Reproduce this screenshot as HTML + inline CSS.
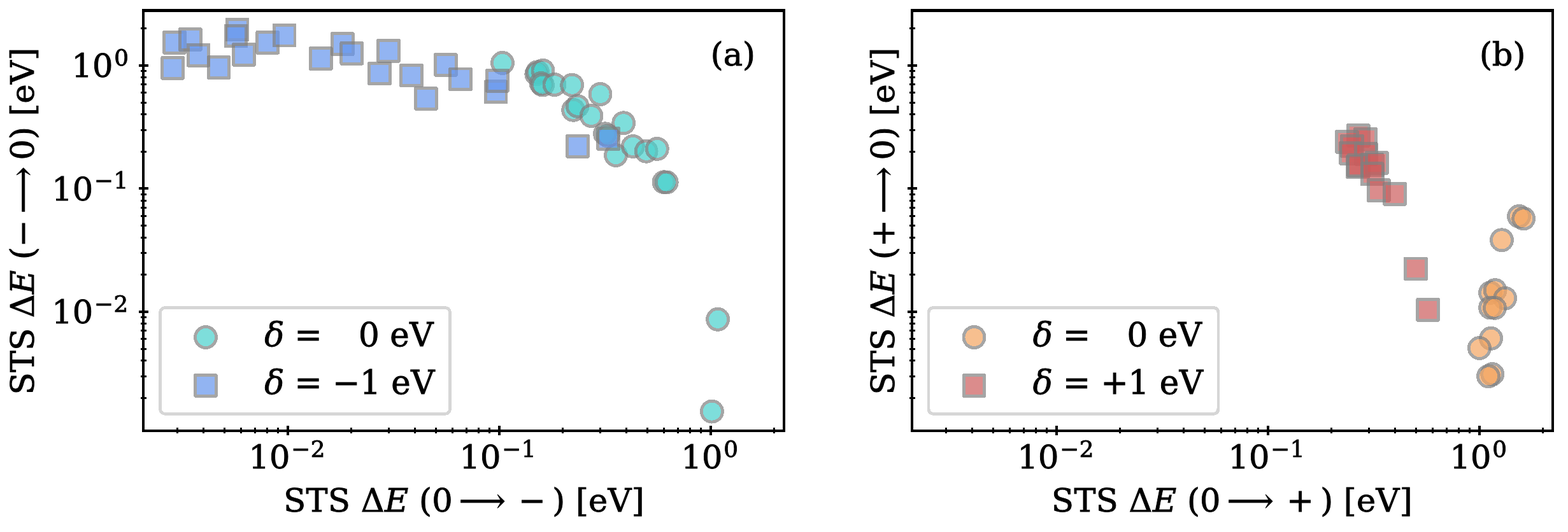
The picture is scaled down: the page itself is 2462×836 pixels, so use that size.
<!DOCTYPE html>
<html><head><meta charset="utf-8"><title>STS scatter</title>
<style>html,body{margin:0;padding:0;background:#fff;width:2462px;height:836px;overflow:hidden}svg{display:block}</style>
</head><body>
<svg width="2462" height="836" viewBox="0 0 2462 836">
<style>circle,rect{shape-rendering:crispEdges}</style>
<rect x="0" y="0" width="2462" height="836" fill="#ffffff"/>
<g>
<circle cx="789.00" cy="98.90" r="16.5" fill="#48D1CC" stroke="#808080" stroke-width="4.9" opacity="0.7"/>
<circle cx="842.30" cy="116.50" r="16.5" fill="#48D1CC" stroke="#808080" stroke-width="4.9" opacity="0.7"/>
<circle cx="844.00" cy="113.30" r="16.5" fill="#48D1CC" stroke="#808080" stroke-width="4.9" opacity="0.7"/>
<circle cx="852.50" cy="111.00" r="16.5" fill="#48D1CC" stroke="#808080" stroke-width="4.9" opacity="0.7"/>
<circle cx="849.50" cy="131.00" r="16.5" fill="#48D1CC" stroke="#808080" stroke-width="4.9" opacity="0.7"/>
<circle cx="852.00" cy="133.60" r="16.5" fill="#48D1CC" stroke="#808080" stroke-width="4.9" opacity="0.7"/>
<circle cx="870.50" cy="133.00" r="16.5" fill="#48D1CC" stroke="#808080" stroke-width="4.9" opacity="0.7"/>
<circle cx="898.20" cy="133.70" r="16.5" fill="#48D1CC" stroke="#808080" stroke-width="4.9" opacity="0.7"/>
<circle cx="942.60" cy="148.00" r="16.5" fill="#48D1CC" stroke="#808080" stroke-width="4.9" opacity="0.7"/>
<circle cx="900.20" cy="172.80" r="16.5" fill="#48D1CC" stroke="#808080" stroke-width="4.9" opacity="0.7"/>
<circle cx="906.60" cy="166.80" r="16.5" fill="#48D1CC" stroke="#808080" stroke-width="4.9" opacity="0.7"/>
<circle cx="928.50" cy="182.00" r="16.5" fill="#48D1CC" stroke="#808080" stroke-width="4.9" opacity="0.7"/>
<circle cx="979.20" cy="193.30" r="16.5" fill="#48D1CC" stroke="#808080" stroke-width="4.9" opacity="0.7"/>
<circle cx="950.00" cy="210.30" r="16.5" fill="#48D1CC" stroke="#808080" stroke-width="4.9" opacity="0.7"/>
<circle cx="954.70" cy="213.50" r="16.5" fill="#48D1CC" stroke="#808080" stroke-width="4.9" opacity="0.7"/>
<circle cx="967.00" cy="244.00" r="16.5" fill="#48D1CC" stroke="#808080" stroke-width="4.9" opacity="0.7"/>
<circle cx="993.80" cy="230.00" r="16.5" fill="#48D1CC" stroke="#808080" stroke-width="4.9" opacity="0.7"/>
<circle cx="1014.60" cy="237.80" r="16.5" fill="#48D1CC" stroke="#808080" stroke-width="4.9" opacity="0.7"/>
<circle cx="1031.80" cy="233.90" r="16.5" fill="#48D1CC" stroke="#808080" stroke-width="4.9" opacity="0.7"/>
<circle cx="1042.50" cy="286.20" r="16.5" fill="#48D1CC" stroke="#808080" stroke-width="4.9" opacity="0.7"/>
<circle cx="1046.70" cy="286.50" r="16.5" fill="#48D1CC" stroke="#808080" stroke-width="4.9" opacity="0.7"/>
<circle cx="1127.10" cy="501.80" r="16.5" fill="#48D1CC" stroke="#808080" stroke-width="4.9" opacity="0.7"/>
<circle cx="1117.90" cy="646.60" r="16.5" fill="#48D1CC" stroke="#808080" stroke-width="4.9" opacity="0.7"/>
<rect x="257.60" y="50.50" width="32.8" height="32.8" fill="#6495ED" stroke="#808080" stroke-width="4.9" stroke-linejoin="round" opacity="0.7"/>
<rect x="282.40" y="45.60" width="32.8" height="32.8" fill="#6495ED" stroke="#808080" stroke-width="4.9" stroke-linejoin="round" opacity="0.7"/>
<rect x="254.70" y="90.40" width="32.8" height="32.8" fill="#6495ED" stroke="#808080" stroke-width="4.9" stroke-linejoin="round" opacity="0.7"/>
<rect x="295.10" y="70.40" width="32.8" height="32.8" fill="#6495ED" stroke="#808080" stroke-width="4.9" stroke-linejoin="round" opacity="0.7"/>
<rect x="327.10" y="89.50" width="32.8" height="32.8" fill="#6495ED" stroke="#808080" stroke-width="4.9" stroke-linejoin="round" opacity="0.7"/>
<rect x="356.20" y="30.10" width="32.8" height="32.8" fill="#6495ED" stroke="#808080" stroke-width="4.9" stroke-linejoin="round" opacity="0.7"/>
<rect x="354.10" y="40.10" width="32.8" height="32.8" fill="#6495ED" stroke="#808080" stroke-width="4.9" stroke-linejoin="round" opacity="0.7"/>
<rect x="366.60" y="69.40" width="32.8" height="32.8" fill="#6495ED" stroke="#808080" stroke-width="4.9" stroke-linejoin="round" opacity="0.7"/>
<rect x="403.90" y="50.50" width="32.8" height="32.8" fill="#6495ED" stroke="#808080" stroke-width="4.9" stroke-linejoin="round" opacity="0.7"/>
<rect x="430.20" y="39.20" width="32.8" height="32.8" fill="#6495ED" stroke="#808080" stroke-width="4.9" stroke-linejoin="round" opacity="0.7"/>
<rect x="487.50" y="75.60" width="32.8" height="32.8" fill="#6495ED" stroke="#808080" stroke-width="4.9" stroke-linejoin="round" opacity="0.7"/>
<rect x="521.50" y="52.80" width="32.8" height="32.8" fill="#6495ED" stroke="#808080" stroke-width="4.9" stroke-linejoin="round" opacity="0.7"/>
<rect x="535.90" y="67.40" width="32.8" height="32.8" fill="#6495ED" stroke="#808080" stroke-width="4.9" stroke-linejoin="round" opacity="0.7"/>
<rect x="593.60" y="63.50" width="32.8" height="32.8" fill="#6495ED" stroke="#808080" stroke-width="4.9" stroke-linejoin="round" opacity="0.7"/>
<rect x="579.50" y="99.10" width="32.8" height="32.8" fill="#6495ED" stroke="#808080" stroke-width="4.9" stroke-linejoin="round" opacity="0.7"/>
<rect x="629.60" y="102.10" width="32.8" height="32.8" fill="#6495ED" stroke="#808080" stroke-width="4.9" stroke-linejoin="round" opacity="0.7"/>
<rect x="652.60" y="138.60" width="32.8" height="32.8" fill="#6495ED" stroke="#808080" stroke-width="4.9" stroke-linejoin="round" opacity="0.7"/>
<rect x="683.60" y="85.60" width="32.8" height="32.8" fill="#6495ED" stroke="#808080" stroke-width="4.9" stroke-linejoin="round" opacity="0.7"/>
<rect x="706.60" y="108.00" width="32.8" height="32.8" fill="#6495ED" stroke="#808080" stroke-width="4.9" stroke-linejoin="round" opacity="0.7"/>
<rect x="762.20" y="127.90" width="32.8" height="32.8" fill="#6495ED" stroke="#808080" stroke-width="4.9" stroke-linejoin="round" opacity="0.7"/>
<rect x="764.60" y="110.50" width="32.8" height="32.8" fill="#6495ED" stroke="#808080" stroke-width="4.9" stroke-linejoin="round" opacity="0.7"/>
<rect x="890.60" y="213.50" width="32.8" height="32.8" fill="#6495ED" stroke="#808080" stroke-width="4.9" stroke-linejoin="round" opacity="0.7"/>
<rect x="938.70" y="201.60" width="32.8" height="32.8" fill="#6495ED" stroke="#808080" stroke-width="4.9" stroke-linejoin="round" opacity="0.7"/>
</g>
<g fill="#000">
<rect x="223.00" y="14" width="4" height="665"/>
<rect x="1229.00" y="14" width="4" height="665"/>
<rect x="223.00" y="14" width="1010.00" height="5"/>
<rect x="223.00" y="675" width="1010.00" height="4"/>
</g>
<g fill="#000"><rect x="276.90" y="672" width="3" height="9"/><rect x="318.38" y="672" width="3" height="9"/><rect x="350.56" y="672" width="3" height="9"/><rect x="376.85" y="672" width="3" height="9"/><rect x="399.07" y="672" width="3" height="9"/><rect x="418.33" y="672" width="3" height="9"/><rect x="435.31" y="672" width="3" height="9"/><rect x="450.00" y="669" width="4" height="15"/><rect x="550.44" y="672" width="3" height="9"/><rect x="608.90" y="672" width="3" height="9"/><rect x="650.38" y="672" width="3" height="9"/><rect x="682.56" y="672" width="3" height="9"/><rect x="708.85" y="672" width="3" height="9"/><rect x="731.07" y="672" width="3" height="9"/><rect x="750.33" y="672" width="3" height="9"/><rect x="767.31" y="672" width="3" height="9"/><rect x="782.00" y="669" width="4" height="15"/><rect x="882.44" y="672" width="3" height="9"/><rect x="940.90" y="672" width="3" height="9"/><rect x="982.38" y="672" width="3" height="9"/><rect x="1014.56" y="672" width="3" height="9"/><rect x="1040.85" y="672" width="3" height="9"/><rect x="1063.07" y="672" width="3" height="9"/><rect x="1082.33" y="672" width="3" height="9"/><rect x="1099.31" y="672" width="3" height="9"/><rect x="1114.00" y="669" width="4" height="15"/><rect x="1214.44" y="672" width="3" height="9"/><rect x="220.80" y="623.72" width="9" height="3"/><rect x="220.80" y="589.65" width="9" height="3"/><rect x="220.80" y="565.47" width="9" height="3"/><rect x="220.80" y="546.72" width="9" height="3"/><rect x="220.80" y="531.40" width="9" height="3"/><rect x="220.80" y="518.44" width="9" height="3"/><rect x="220.80" y="507.22" width="9" height="3"/><rect x="220.80" y="497.32" width="9" height="3"/><rect x="217.80" y="487.97" width="15" height="4"/><rect x="220.80" y="430.22" width="9" height="3"/><rect x="220.80" y="396.15" width="9" height="3"/><rect x="220.80" y="371.97" width="9" height="3"/><rect x="220.80" y="353.22" width="9" height="3"/><rect x="220.80" y="337.90" width="9" height="3"/><rect x="220.80" y="324.94" width="9" height="3"/><rect x="220.80" y="313.72" width="9" height="3"/><rect x="220.80" y="303.82" width="9" height="3"/><rect x="217.80" y="294.47" width="15" height="4"/><rect x="220.80" y="236.72" width="9" height="3"/><rect x="220.80" y="202.65" width="9" height="3"/><rect x="220.80" y="178.47" width="9" height="3"/><rect x="220.80" y="159.72" width="9" height="3"/><rect x="220.80" y="144.40" width="9" height="3"/><rect x="220.80" y="131.44" width="9" height="3"/><rect x="220.80" y="120.22" width="9" height="3"/><rect x="220.80" y="110.32" width="9" height="3"/><rect x="217.80" y="100.97" width="15" height="4"/><rect x="220.80" y="43.22" width="9" height="3"/></g>
<g>
<circle cx="2385.10" cy="339.90" r="16.5" fill="#F4A460" stroke="#808080" stroke-width="4.9" opacity="0.7"/>
<circle cx="2392.20" cy="343.40" r="16.5" fill="#F4A460" stroke="#808080" stroke-width="4.9" opacity="0.7"/>
<circle cx="2358.00" cy="377.30" r="16.5" fill="#F4A460" stroke="#808080" stroke-width="4.9" opacity="0.7"/>
<circle cx="2340.10" cy="460.10" r="16.5" fill="#F4A460" stroke="#808080" stroke-width="4.9" opacity="0.7"/>
<circle cx="2347.60" cy="456.10" r="16.5" fill="#F4A460" stroke="#808080" stroke-width="4.9" opacity="0.7"/>
<circle cx="2363.20" cy="468.70" r="16.5" fill="#F4A460" stroke="#808080" stroke-width="4.9" opacity="0.7"/>
<circle cx="2340.10" cy="483.50" r="16.5" fill="#F4A460" stroke="#808080" stroke-width="4.9" opacity="0.7"/>
<circle cx="2347.00" cy="483.80" r="16.5" fill="#F4A460" stroke="#808080" stroke-width="4.9" opacity="0.7"/>
<circle cx="2341.10" cy="531.80" r="16.5" fill="#F4A460" stroke="#808080" stroke-width="4.9" opacity="0.7"/>
<circle cx="2322.90" cy="547.00" r="16.5" fill="#F4A460" stroke="#808080" stroke-width="4.9" opacity="0.7"/>
<circle cx="2343.20" cy="588.00" r="16.5" fill="#F4A460" stroke="#808080" stroke-width="4.9" opacity="0.7"/>
<circle cx="2337.10" cy="591.30" r="16.5" fill="#F4A460" stroke="#808080" stroke-width="4.9" opacity="0.7"/>
<rect x="2116.60" y="196.60" width="32.8" height="32.8" fill="#CD5C5C" stroke="#808080" stroke-width="4.9" stroke-linejoin="round" opacity="0.7"/>
<rect x="2127.60" y="202.40" width="32.8" height="32.8" fill="#CD5C5C" stroke="#808080" stroke-width="4.9" stroke-linejoin="round" opacity="0.7"/>
<rect x="2098.60" y="206.60" width="32.8" height="32.8" fill="#CD5C5C" stroke="#808080" stroke-width="4.9" stroke-linejoin="round" opacity="0.7"/>
<rect x="2106.50" y="213.20" width="32.8" height="32.8" fill="#CD5C5C" stroke="#808080" stroke-width="4.9" stroke-linejoin="round" opacity="0.7"/>
<rect x="2104.60" y="224.60" width="32.8" height="32.8" fill="#CD5C5C" stroke="#808080" stroke-width="4.9" stroke-linejoin="round" opacity="0.7"/>
<rect x="2128.50" y="225.40" width="32.8" height="32.8" fill="#CD5C5C" stroke="#808080" stroke-width="4.9" stroke-linejoin="round" opacity="0.7"/>
<rect x="2115.60" y="246.10" width="32.8" height="32.8" fill="#CD5C5C" stroke="#808080" stroke-width="4.9" stroke-linejoin="round" opacity="0.7"/>
<rect x="2116.80" y="243.90" width="32.8" height="32.8" fill="#CD5C5C" stroke="#808080" stroke-width="4.9" stroke-linejoin="round" opacity="0.7"/>
<rect x="2138.30" y="242.80" width="32.8" height="32.8" fill="#CD5C5C" stroke="#808080" stroke-width="4.9" stroke-linejoin="round" opacity="0.7"/>
<rect x="2145.60" y="239.60" width="32.8" height="32.8" fill="#CD5C5C" stroke="#808080" stroke-width="4.9" stroke-linejoin="round" opacity="0.7"/>
<rect x="2138.30" y="256.90" width="32.8" height="32.8" fill="#CD5C5C" stroke="#808080" stroke-width="4.9" stroke-linejoin="round" opacity="0.7"/>
<rect x="2148.50" y="282.60" width="32.8" height="32.8" fill="#CD5C5C" stroke="#808080" stroke-width="4.9" stroke-linejoin="round" opacity="0.7"/>
<rect x="2173.60" y="288.50" width="32.8" height="32.8" fill="#CD5C5C" stroke="#808080" stroke-width="4.9" stroke-linejoin="round" opacity="0.7"/>
<rect x="2206.50" y="406.00" width="32.8" height="32.8" fill="#CD5C5C" stroke="#808080" stroke-width="4.9" stroke-linejoin="round" opacity="0.7"/>
<rect x="2225.70" y="470.40" width="32.8" height="32.8" fill="#CD5C5C" stroke="#808080" stroke-width="4.9" stroke-linejoin="round" opacity="0.7"/>
</g>
<g fill="#000">
<rect x="1430.00" y="14" width="4" height="665"/>
<rect x="2436.00" y="14" width="4" height="665"/>
<rect x="1430.00" y="14" width="1010.00" height="5"/>
<rect x="1430.00" y="675" width="1010.00" height="4"/>
</g>
<g fill="#000"><rect x="1483.90" y="672" width="3" height="9"/><rect x="1525.38" y="672" width="3" height="9"/><rect x="1557.56" y="672" width="3" height="9"/><rect x="1583.85" y="672" width="3" height="9"/><rect x="1606.07" y="672" width="3" height="9"/><rect x="1625.33" y="672" width="3" height="9"/><rect x="1642.31" y="672" width="3" height="9"/><rect x="1657.00" y="669" width="4" height="15"/><rect x="1757.44" y="672" width="3" height="9"/><rect x="1815.90" y="672" width="3" height="9"/><rect x="1857.38" y="672" width="3" height="9"/><rect x="1889.56" y="672" width="3" height="9"/><rect x="1915.85" y="672" width="3" height="9"/><rect x="1938.07" y="672" width="3" height="9"/><rect x="1957.33" y="672" width="3" height="9"/><rect x="1974.31" y="672" width="3" height="9"/><rect x="1989.00" y="669" width="4" height="15"/><rect x="2089.44" y="672" width="3" height="9"/><rect x="2147.90" y="672" width="3" height="9"/><rect x="2189.38" y="672" width="3" height="9"/><rect x="2221.56" y="672" width="3" height="9"/><rect x="2247.85" y="672" width="3" height="9"/><rect x="2270.07" y="672" width="3" height="9"/><rect x="2289.33" y="672" width="3" height="9"/><rect x="2306.31" y="672" width="3" height="9"/><rect x="2321.00" y="669" width="4" height="15"/><rect x="2421.44" y="672" width="3" height="9"/><rect x="1427.80" y="623.72" width="9" height="3"/><rect x="1427.80" y="589.65" width="9" height="3"/><rect x="1427.80" y="565.47" width="9" height="3"/><rect x="1427.80" y="546.72" width="9" height="3"/><rect x="1427.80" y="531.40" width="9" height="3"/><rect x="1427.80" y="518.44" width="9" height="3"/><rect x="1427.80" y="507.22" width="9" height="3"/><rect x="1427.80" y="497.32" width="9" height="3"/><rect x="1424.80" y="487.97" width="15" height="4"/><rect x="1427.80" y="430.22" width="9" height="3"/><rect x="1427.80" y="396.15" width="9" height="3"/><rect x="1427.80" y="371.97" width="9" height="3"/><rect x="1427.80" y="353.22" width="9" height="3"/><rect x="1427.80" y="337.90" width="9" height="3"/><rect x="1427.80" y="324.94" width="9" height="3"/><rect x="1427.80" y="313.72" width="9" height="3"/><rect x="1427.80" y="303.82" width="9" height="3"/><rect x="1424.80" y="294.47" width="15" height="4"/><rect x="1427.80" y="236.72" width="9" height="3"/><rect x="1427.80" y="202.65" width="9" height="3"/><rect x="1427.80" y="178.47" width="9" height="3"/><rect x="1427.80" y="159.72" width="9" height="3"/><rect x="1427.80" y="144.40" width="9" height="3"/><rect x="1427.80" y="131.44" width="9" height="3"/><rect x="1427.80" y="120.22" width="9" height="3"/><rect x="1427.80" y="110.32" width="9" height="3"/><rect x="1424.80" y="100.97" width="15" height="4"/><rect x="1427.80" y="43.22" width="9" height="3"/></g>
<g font-family="'DejaVu Serif', 'Liberation Serif', serif" fill="#000" stroke="#000" stroke-width="0.9">
<text font-size="51.0"><tspan x="390.60" y="736.00">10</tspan><tspan x="457.24" y="717.60" font-size="35.70">−</tspan><tspan x="487.74" y="717.60" font-size="35.70">2</tspan></text>
<text font-size="51.0"><tspan x="721.60" y="736.00">10</tspan><tspan x="788.24" y="717.60" font-size="35.70">−</tspan><tspan x="818.74" y="717.60" font-size="35.70">1</tspan></text>
<text font-size="51.0"><tspan x="1069.60" y="736.00">10</tspan><tspan x="1136.24" y="717.60" font-size="35.70">0</tspan></text>
<text font-size="51.0"><tspan x="1597.60" y="736.00">10</tspan><tspan x="1664.24" y="717.60" font-size="35.70">−</tspan><tspan x="1694.74" y="717.60" font-size="35.70">2</tspan></text>
<text font-size="51.0"><tspan x="1928.60" y="736.00">10</tspan><tspan x="1995.24" y="717.60" font-size="35.70">−</tspan><tspan x="2025.74" y="717.60" font-size="35.70">1</tspan></text>
<text font-size="51.0"><tspan x="2276.60" y="736.00">10</tspan><tspan x="2343.24" y="717.60" font-size="35.70">0</tspan></text>
<text font-size="51.0"><tspan x="112.50" y="120.90">10</tspan><tspan x="179.14" y="102.50" font-size="35.70">0</tspan></text>
<text font-size="51.0"><tspan x="81.30" y="314.80">10</tspan><tspan x="147.94" y="296.40" font-size="35.70">−</tspan><tspan x="178.44" y="296.40" font-size="35.70">1</tspan></text>
<text font-size="51.0"><tspan x="81.30" y="507.90">10</tspan><tspan x="147.94" y="489.50" font-size="35.70">−</tspan><tspan x="178.44" y="489.50" font-size="35.70">2</tspan></text>
<text font-size="51.0"><tspan x="445.20" y="803.90">S</tspan><tspan x="480.55" y="803.90">T</tspan><tspan x="514.97" y="803.90">S</tspan><tspan x="566.72" y="803.90">Δ</tspan><tspan x="603.98" y="803.90" font-style="italic">E</tspan><tspan x="658.05" y="803.90">(</tspan><tspan x="678.18" y="803.90">0</tspan><tspan x="720.80" y="803.90">⟶</tspan><tspan x="814.34" y="803.90">−</tspan><tspan x="867.36" y="803.90">)</tspan><tspan x="903.90" y="803.90">[</tspan><tspan x="924.03" y="803.90">e</tspan><tspan x="954.56" y="803.90">V</tspan><tspan x="991.83" y="803.90">]</tspan></text>
<text font-size="51.0"><tspan x="1651.10" y="803.90">S</tspan><tspan x="1686.45" y="803.90">T</tspan><tspan x="1720.87" y="803.90">S</tspan><tspan x="1772.62" y="803.90">Δ</tspan><tspan x="1809.88" y="803.90" font-style="italic">E</tspan><tspan x="1863.95" y="803.90">(</tspan><tspan x="1884.08" y="803.90">0</tspan><tspan x="1926.70" y="803.90">⟶</tspan><tspan x="2020.24" y="803.90">+</tspan><tspan x="2073.26" y="803.90">)</tspan><tspan x="2109.80" y="803.90">[</tspan><tspan x="2129.93" y="803.90">e</tspan><tspan x="2160.46" y="803.90">V</tspan><tspan x="2197.73" y="803.90">]</tspan></text>
<text font-size="51.0" transform="translate(53.10,620.3) rotate(-90)"><tspan x="0.00" y="0">S</tspan><tspan x="35.25" y="0">T</tspan><tspan x="69.56" y="0">S</tspan><tspan x="121.16" y="0">Δ</tspan><tspan x="158.32" y="0" font-style="italic">E</tspan><tspan x="212.23" y="0">(</tspan><tspan x="232.30" y="0">−</tspan><tspan x="285.17" y="0">⟶</tspan><tspan x="368.69" y="0">0</tspan><tspan x="401.42" y="0">)</tspan><tspan x="437.85" y="0">[</tspan><tspan x="457.92" y="0">e</tspan><tspan x="488.37" y="0">V</tspan><tspan x="525.52" y="0">]</tspan></text>
<text font-size="51.0" transform="translate(1403.90,620.3) rotate(-90)"><tspan x="0.00" y="0">S</tspan><tspan x="35.25" y="0">T</tspan><tspan x="69.56" y="0">S</tspan><tspan x="121.16" y="0">Δ</tspan><tspan x="158.32" y="0" font-style="italic">E</tspan><tspan x="212.23" y="0">(</tspan><tspan x="232.30" y="0">+</tspan><tspan x="285.17" y="0">⟶</tspan><tspan x="368.69" y="0">0</tspan><tspan x="401.42" y="0">)</tspan><tspan x="437.85" y="0">[</tspan><tspan x="457.92" y="0">e</tspan><tspan x="488.37" y="0">V</tspan><tspan x="525.52" y="0">]</tspan></text>
<text font-size="51.0" x="1115.8" y="102.9">(a)</text>
<text font-size="51.0" x="2322.9" y="102.9">(b)</text>
</g>
<path d="M260.50,483.40 L697.50,483.40 Q706.50,483.40 706.50,492.40 L706.50,641.40 Q706.50,650.40 697.50,650.40 L260.50,650.40 Q251.50,650.40 251.50,641.40 L251.50,492.40 Q251.50,483.40 260.50,483.40 Z" fill="#ffffff" fill-opacity="0.8" stroke="#cccccc" stroke-opacity="0.8" stroke-width="4.7" shape-rendering="crispEdges"/>
<circle cx="323.00" cy="530.00" r="16.5" fill="#48D1CC" stroke="#808080" stroke-width="4.9" opacity="0.7"/>
<rect x="306.60" y="589.60" width="32.8" height="32.8" fill="#6495ED" stroke="#808080" stroke-width="4.9" stroke-linejoin="round" opacity="0.7"/>
<g font-family="'DejaVu Serif', 'Liberation Serif', serif" fill="#000" stroke="#000" stroke-width="0.9">
<text font-size="51.5"><tspan x="415.25" y="544.20" font-style="italic">δ</tspan><tspan x="462.40" y="544.20">=</tspan><tspan x="563.00" y="544.20">0</tspan><tspan x="612.30" y="544.20">e</tspan><tspan x="643.30" y="544.20">V</tspan></text>
<text font-size="51.5"><tspan x="415.25" y="619.10" font-style="italic">δ</tspan><tspan x="462.40" y="619.10">=</tspan><tspan x="522.10" y="619.10">−</tspan><tspan x="564.90" y="619.10">1</tspan><tspan x="614.30" y="619.10">e</tspan><tspan x="645.30" y="619.10">V</tspan></text>
</g>
<path d="M1467.00,483.40 L1904.00,483.40 Q1913.00,483.40 1913.00,492.40 L1913.00,641.40 Q1913.00,650.40 1904.00,650.40 L1467.00,650.40 Q1458.00,650.40 1458.00,641.40 L1458.00,492.40 Q1458.00,483.40 1467.00,483.40 Z" fill="#ffffff" fill-opacity="0.8" stroke="#cccccc" stroke-opacity="0.8" stroke-width="4.7" shape-rendering="crispEdges"/>
<circle cx="1529.50" cy="530.00" r="16.5" fill="#F4A460" stroke="#808080" stroke-width="4.9" opacity="0.7"/>
<rect x="1513.10" y="589.60" width="32.8" height="32.8" fill="#CD5C5C" stroke="#808080" stroke-width="4.9" stroke-linejoin="round" opacity="0.7"/>
<g font-family="'DejaVu Serif', 'Liberation Serif', serif" fill="#000" stroke="#000" stroke-width="0.9">
<text font-size="51.5"><tspan x="1621.75" y="544.20" font-style="italic">δ</tspan><tspan x="1668.90" y="544.20">=</tspan><tspan x="1769.50" y="544.20">0</tspan><tspan x="1818.80" y="544.20">e</tspan><tspan x="1849.80" y="544.20">V</tspan></text>
<text font-size="51.5"><tspan x="1621.75" y="619.10" font-style="italic">δ</tspan><tspan x="1668.90" y="619.10">=</tspan><tspan x="1728.60" y="619.10">+</tspan><tspan x="1771.40" y="619.10">1</tspan><tspan x="1820.80" y="619.10">e</tspan><tspan x="1851.80" y="619.10">V</tspan></text>
</g>
</svg>
</body></html>
